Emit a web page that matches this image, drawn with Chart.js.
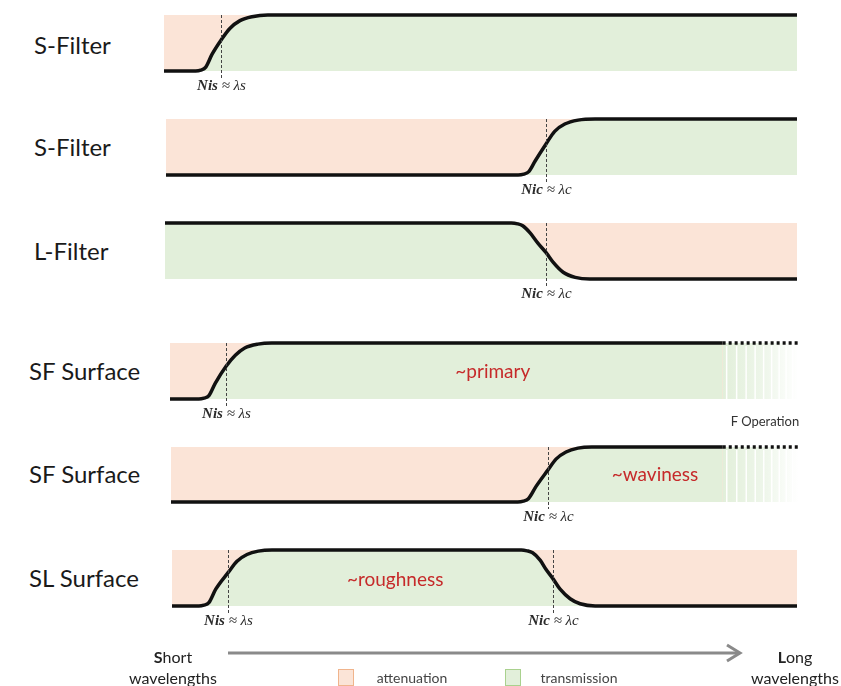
<!DOCTYPE html>
<html>
<head>
<meta charset="utf-8">
<script src="https://cdn.jsdelivr.net/npm/chart.js@4/dist/chart.umd.min.js"></script>
<style>
  body { margin: 0; background: #fff; width: 841px; height: 686px; overflow: hidden; position: relative; font-family: Lato, "Open Sans", sans-serif; }
  .panel { position: absolute; }
  .rowlabel { position: absolute; font-size: 24px; color: #1a1a1a; line-height: 1; transform: translateY(-50%); white-space: nowrap; }
  .note { position: absolute; color: #333; white-space: nowrap; transform: translate(-50%, -50%); line-height: 1; }
  .legbox { position: absolute; width: 16px; height: 17px; box-sizing: border-box; }
</style>
</head>
<body>
<script>
    // row names, top to bottom
    const rowLabels = ['S-Filter', 'S-Filter', 'L-Filter', 'SF Surface', 'SF Surface', 'SL Surface']

    // transmission curves: x = position along the wavelength axis (0..100), y = transmission (0..1)
    const sFilterAX = [0, 5.0, 5.8, 6.6, 7.6, 9.0, 10.4, 12.0, 13.9, 16.4, 100]
    const sFilterAY = [0, 0, 0.015, 0.07, 0.30, 0.55, 0.76, 0.90, 0.97, 1, 1]
    const sFilterBX = [0, 55.8, 56.7, 57.5, 58.5, 60.2, 61.6, 63.2, 65.3, 68.0, 100]
    const sFilterBY = [0, 0, 0.015, 0.06, 0.25, 0.55, 0.78, 0.91, 0.98, 1, 1]
    const lFilterX = [0, 54.8, 55.8, 56.6, 57.8, 59.0, 60.3, 61.4, 63.0, 64.9, 67.2, 100]
    const lFilterY = [1, 1, 0.985, 0.95, 0.82, 0.64, 0.47, 0.30, 0.12, 0.03, 0, 0]
    const sfPrimaryX = [0, 4.6, 5.4, 6.2, 7.2, 8.9, 10.4, 11.9, 14.0, 16.2, 88, 100]
    const sfPrimaryY = [0, 0, 0.015, 0.06, 0.28, 0.58, 0.78, 0.91, 0.98, 1, 1, 1]
    const sfWavinessX = [0, 55.3, 56.2, 57.0, 58.2, 60.1, 61.4, 63.0, 64.9, 67.1, 88, 100]
    const sfWavinessY = [0, 0, 0.015, 0.06, 0.28, 0.58, 0.78, 0.91, 0.98, 1, 1, 1]
    const slRoughX = [0, 4.3, 5.1, 5.9, 7.0, 9.0, 10.4, 12.0, 13.8, 16.0, 55.9, 56.8, 57.7, 58.9, 59.8, 61.0, 62.1, 63.7, 65.3, 67.7, 100]
    const slRoughY = [0, 0, 0.015, 0.06, 0.30, 0.60, 0.80, 0.92, 0.98, 1, 1, 0.985, 0.95, 0.82, 0.66, 0.48, 0.30, 0.13, 0.04, 0, 0]

    // cut-off positions (dashed lines) and their subscripts (s -> Nis ≈ λs, c -> Nic ≈ λc)
    const cutoffX = [[9.0], [60.2], [60.3], [8.9], [60.1], [9.0, 61.0]]
    const cutoffKind = [['s'], ['c'], ['c'], ['s'], ['c'], ['s', 'c']]

    // text inside the bands
    const bandText = [null, null, null, '~primary', '~waviness', '~roughness']
    const bandTextX = [null, null, null, 51.4, 77.2, 35.7]
    const bandTextY = [null, null, null, 0.48, 0.49, 0.46]

    // where the line turns dotted and the transmission fades out (F operation)
    const fadeFrom = [null, null, null, 88, 88, null]

    const curvesX = [sFilterAX, sFilterBX, lFilterX, sfPrimaryX, sfWavinessX, slRoughX]
    const curvesY = [sFilterAY, sFilterBY, lFilterY, sfPrimaryY, sfWavinessY, slRoughY]

    // page layout of each band (px)
    const boxes = [
      { left: 164, top: 15, right: 797, bottom: 71, labelY: 45 },
      { left: 166, top: 119, right: 797, bottom: 175, labelY: 147 },
      { left: 165, top: 223, right: 797, bottom: 279, labelY: 251 },
      { left: 170, top: 343, right: 798, bottom: 399, labelY: 371 },
      { left: 171, top: 447, right: 798, bottom: 502, labelY: 474 },
      { left: 172, top: 550, right: 797, bottom: 606, labelY: 578 }
    ]

    const PINK = '#fbe4d7'
    const GREEN = '#e2efda'
    const PAD = { left: 8, right: 8, top: 5, bottom: 28 }

    const decor = {
      id: 'decor',
      beforeDatasetsDraw(chart, args, o) {
        const c = chart.ctx, a = chart.chartArea
        c.save()
        c.fillStyle = PINK
        c.fillRect(a.left, a.top, a.right - a.left, a.bottom - a.top)
        c.restore()
      },
      afterDatasetsDraw(chart, args, o) {
        const c = chart.ctx, a = chart.chartArea
        const xs = chart.scales.x, ys = chart.scales.y
        const i = o.index
        c.save()
        // white stripes over the fading part
        if (fadeFrom[i] != null) {
          let x = xs.getPixelForValue(fadeFrom[i]) + 4
          let step = 10
          c.strokeStyle = 'rgba(255,255,255,0.95)'
          c.lineWidth = 1.5
          while (x < a.right) {
            c.beginPath()
            c.moveTo(x, a.top + 3)
            c.lineTo(x, a.bottom + 1)
            c.stroke()
            x += step
            step = Math.max(6, step - 0.5)
          }
        }
        // cut-off lines and labels
        cutoffX[i].forEach((v, k) => {
          const px = Math.round(xs.getPixelForValue(v)) + 0.5
          c.strokeStyle = '#444'
          c.lineWidth = 1
          c.setLineDash([3, 2])
          c.beginPath()
          c.moveTo(px, a.top)
          c.lineTo(px, a.bottom + 7)
          c.stroke()
          c.setLineDash([])
          const sub = cutoffKind[i][k]
          const t1 = 'Ni' + sub, t2 = ' \u2248 \u03bb' + sub
          c.fillStyle = '#2b2b2b'
          c.textBaseline = 'middle'
          c.font = 'italic bold 15px "Liberation Serif", serif'
          const w1 = c.measureText(t1).width
          c.font = 'italic 15px "Liberation Serif", serif'
          const w2 = c.measureText(t2).width
          const x0 = px - (w1 + w2) / 2
          const y0 = a.bottom + 15
          c.font = 'italic bold 15px "Liberation Serif", serif'
          c.fillText(t1, x0, y0)
          c.font = 'italic 15px "Liberation Serif", serif'
          c.fillText(t2, x0 + w1, y0)
        })
        // band text
        if (bandText[i]) {
          c.fillStyle = '#c62a2a'
          c.font = '19px Lato, sans-serif'
          c.textAlign = 'center'
          c.textBaseline = 'middle'
          c.fillText(bandText[i], xs.getPixelForValue(bandTextX[i]), ys.getPixelForValue(bandTextY[i]))
        }
        c.restore()
      }
    }

    boxes.forEach((b, i) => {
      const w = b.right - b.left + PAD.left + PAD.right
      const h = b.bottom - b.top + PAD.top + PAD.bottom
      const canvas = document.createElement('canvas')
      canvas.className = 'panel'
      canvas.width = w
      canvas.height = h
      canvas.style.left = (b.left - PAD.left) + 'px'
      canvas.style.top = (b.top - PAD.top) + 'px'
      canvas.style.width = w + 'px'
      canvas.style.height = h + 'px'
      document.body.appendChild(canvas)

      const lab = document.createElement('div')
      lab.className = 'rowlabel'
      lab.textContent = rowLabels[i]
      lab.style.left = (i < 3 ? 34 : 29) + 'px'
      lab.style.top = b.labelY + 'px'
      document.body.appendChild(lab)

      const fade = fadeFrom[i]
      const points = curvesX[i].map((x, k) => ({ x: x, y: curvesY[i][k] }))

      new Chart(canvas, {
        type: 'line',
        data: {
          datasets: [{
            data: points,
            borderColor: '#111',
            borderWidth: 3.5,
            borderCapStyle: 'butt',
            pointRadius: 0,
            clip: 5,
            cubicInterpolationMode: 'monotone',
            fill: 'origin',
            backgroundColor: function (ctx) {
              const ca = ctx.chart.chartArea
              if (!ca || fade == null) return GREEN
              const x0 = ctx.chart.scales.x.getPixelForValue(fade)
              const g = ctx.chart.ctx.createLinearGradient(x0, 0, ca.right, 0)
              g.addColorStop(0, GREEN)
              g.addColorStop(0.55, '#eef6ea')
              g.addColorStop(1, '#ffffff')
              return g
            },
            segment: {
              borderDash: c => (fade != null && c.p0.parsed.x >= fade) ? [3, 3] : undefined
            }
          }]
        },
        options: {
          responsive: false,
          animation: false,
          devicePixelRatio: 1,
          layout: { padding: PAD },
          scales: {
            x: { type: 'linear', min: 0, max: 100, display: false },
            y: { min: 0, max: 1, display: false }
          },
          plugins: {
            legend: { display: false },
            tooltip: { enabled: false },
            decor: { index: i }
          }
        },
        plugins: [decor]
      })
    })
</script>

<div class="note" style="left:765px; top:421px; font-size:13px;">F Operation</div>

<svg style="position:absolute; left:0; top:0;" width="841" height="686">
  <line x1="228" y1="653" x2="739" y2="653" stroke="#8a8a8a" stroke-width="3"/>
  <polyline points="727,645 740,653 727,661" fill="none" stroke="#8a8a8a" stroke-width="3"/>
</svg>

<div class="note" style="left:173px; top:657px; font-size:16px; color:#222;"><b>S</b>hort</div>
<div class="note" style="left:173px; top:678px; font-size:16px; color:#222;">wavelengths</div>
<div class="note" style="left:795px; top:657px; font-size:16px; color:#222;"><b>L</b>ong</div>
<div class="note" style="left:795px; top:678px; font-size:16px; color:#222;">wavelengths</div>

<div class="legbox" style="left:338px; top:669px; background:#fbe4d7; border:1px solid #f0b48c;"></div>
<div class="note" style="left:412px; top:678px; font-size:14px; color:#444;">attenuation</div>
<div class="legbox" style="left:505px; top:669px; background:#e2efda; border:1px solid #a9d18e;"></div>
<div class="note" style="left:579px; top:678px; font-size:14px; color:#444;">transmission</div>
</body>
</html>
